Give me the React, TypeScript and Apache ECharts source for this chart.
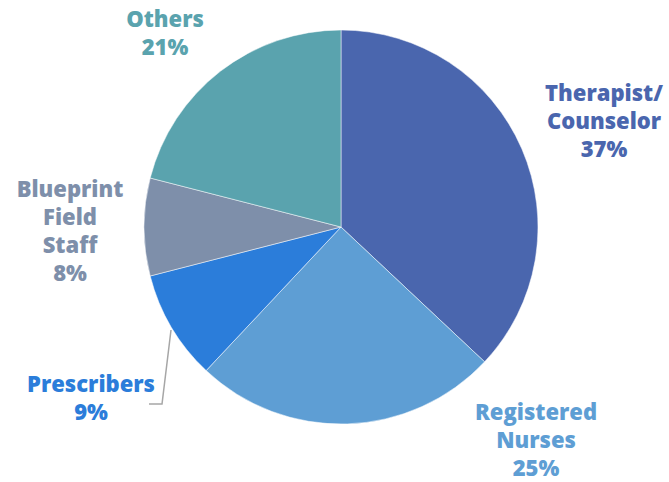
import React, { useEffect, useRef } from "react";
import * as echarts from "echarts";

const categories = ["Therapist/\nCounselor", "Registered\nNurses", "Prescribers", "Blueprint\nField\nStaff", "Others"];
const values = [37, 25, 9, 8, 21];
const colors = ["#4A66AE", "#5E9ED4", "#2B7DDA", "#7E8FAA", "#5AA3AE"];
const labelAnchors = [
  [604, 120],
  [536, 439],
  [91, 397],
  [70, 230],
  [165, 32],
];

export default function App() {
  const ref = useRef<HTMLDivElement>(null);
  useEffect(() => {
    if (!ref.current) return;
    const chart = echarts.init(ref.current, null, { renderer: "svg" });
    chart.setOption({
      animation: false,
      backgroundColor: "#ffffff",
      series: [
        {
          type: "pie",
          center: [341, 227],
          radius: [0, 197],
          startAngle: 90,
          clockwise: true,
          silent: true,
          itemStyle: { borderColor: "#ffffff", borderWidth: 0.5 },
          label: {
            show: true,
            position: "outside",
            formatter: (p: any) => `${p.name}\n${p.value}%`,
            fontFamily: "Open Sans",
            fontWeight: 800,
            fontSize: 22,
            lineHeight: 28,
            align: "center",
            overflow: "none",
            width: 200,
          },
          labelLine: { show: false },
          labelLayout: (p: any) => {
            const a = labelAnchors[p.dataIndex];
            const res: any = { x: a[0], y: a[1], align: "center", verticalAlign: "middle" };
            if (p.dataIndex === 2) {
              res.labelLinePoints = [[171, 330], [162, 404], [149, 404]];
            }
            return res;
          },
          data: categories.map((c, i) => ({
            name: c,
            value: values[i],
            itemStyle: { color: colors[i] },
            label: { color: colors[i] },
            labelLine: {
              show: i === 2,
              lineStyle: { color: "#A6A6A6", width: 1.5 },
            },
          })),
        },
      ],
    });
    return () => chart.dispose();
  }, []);
  return (
    <div
      ref={ref}
      style={{ position: "fixed", left: 0, top: 0, width: 669, height: 482 }}
    />
  );
}
